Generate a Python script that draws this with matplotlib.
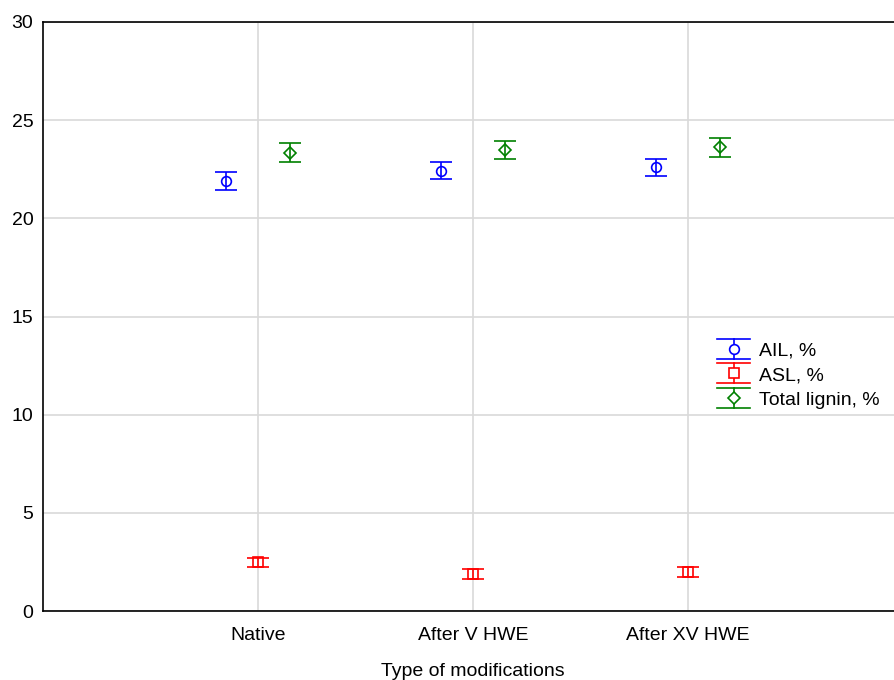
import matplotlib
matplotlib.use("Agg")
import matplotlib.pyplot as plt
from matplotlib.legend_handler import HandlerBase
from matplotlib.lines import Line2D
import numpy as np

plt.rcParams["font.family"] = ["Liberation Sans", "DejaVu Sans"]

categories = ["Native", "After V HWE", "After XV HWE"]

ail_mean = [21.9, 22.43, 22.6]
ail_err = [0.45, 0.45, 0.43]

asl_mean = [2.48, 1.89, 1.98]
asl_err = [0.24, 0.25, 0.25]

total_mean = [23.35, 23.48, 23.61]
total_err = [0.48, 0.48, 0.47]


class ErrorbarHandle(HandlerBase):
    # whisker-style legend key: wide caps, vertical bar and marker
    def create_artists(self, legend, orig_handle, xdescent, ydescent,
                       width, height, fontsize, trans):
        line = orig_handle.lines[0]
        color = line.get_color()
        cx = width / 2 - xdescent
        cy = height / 2 - ydescent
        half = 7.2
        artists = [
            Line2D([-xdescent, width - xdescent], [cy + half, cy + half], color=color, lw=1.2),
            Line2D([-xdescent, width - xdescent], [cy - half, cy - half], color=color, lw=1.2),
            Line2D([cx, cx], [cy - half, cy + half], color=color, lw=1.2),
            Line2D([cx], [cy], marker=line.get_marker(), markersize=line.get_markersize(),
                   markerfacecolor="white", markeredgecolor=color, markeredgewidth=1.2,
                   linestyle="none"),
        ]
        for a in artists:
            a.set_transform(trans)
        return artists


fig = plt.figure(figsize=(8.95, 6.8), dpi=100)
ax = fig.add_axes([43 / 895, 69 / 680, 860 / 895, 589 / 680])

x = np.arange(1, len(categories) + 1)
offset = 0.15

common = dict(linestyle="none", capsize=8, elinewidth=1.2, capthick=1.2,
              markerfacecolor="none", markeredgewidth=1.2)
h1 = ax.errorbar(x - offset, ail_mean, yerr=ail_err, color="#0000ff", marker="o",
                 markersize=7, label="AIL, %", **common)
h2 = ax.errorbar(x, asl_mean, yerr=asl_err, color="#ff0000", marker="s",
                 markersize=7, label="ASL, %", **common)
h3 = ax.errorbar(x + offset, total_mean, yerr=total_err, color="#008000", marker="D",
                 markersize=6, label="Total lignin, %", **common)

ax.set_xlim(0, 4)
ax.set_ylim(0, 30)
ax.set_xticks(x)
ax.set_xticklabels(categories, fontsize=14)
ax.set_yticks(range(0, 31, 5))
ax.tick_params(axis="y", labelsize=14, length=0, pad=7)
ax.tick_params(axis="x", length=0, pad=11.5)
ax.grid(True, color="#d9d9d9", linewidth=1.2)
ax.set_axisbelow(True)
ax.set_xlabel("Type of modifications", fontsize=14, labelpad=14)
for side in ["left", "bottom", "top"]:
    ax.spines[side].set_linewidth(1.2)

handler = ErrorbarHandle()
ax.legend([h1, h2, h3], ["AIL, %", "ASL, %", "Total lignin, %"],
          handler_map={type(h1): handler},
          loc="upper left", bbox_to_anchor=(0.784, 0.457), frameon=False,
          fontsize=14, handlelength=1.7, labelspacing=0.36, handletextpad=0.45,
          borderaxespad=0, borderpad=0)

fig.savefig("out.png", dpi=100)
